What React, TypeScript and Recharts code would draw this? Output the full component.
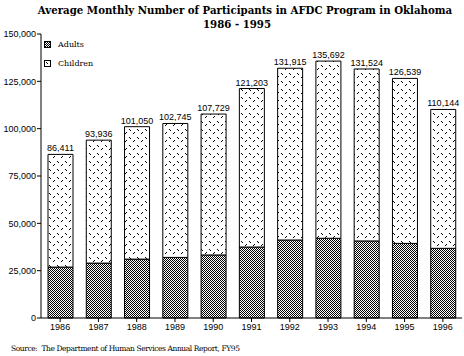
import React from "react";
import { BarChart, Bar, XAxis, YAxis, LabelList } from "recharts";

const years = ["1986", "1987", "1988", "1989", "1990", "1991", "1992", "1993", "1994", "1995", "1996"];
const totals = [86411, 93936, 101050, 102745, 107729, 121203, 131915, 135692, 131524, 126539, 110144];
const adults = [26900, 29000, 31100, 32000, 33300, 37500, 41200, 42100, 40700, 39400, 36800];
const children = [59511, 64936, 69950, 70745, 74429, 83703, 90715, 93592, 90824, 87139, 73344];
const yTicks = [0, 25000, 50000, 75000, 100000, 125000, 150000];

const data = years.map((y, i) => ({
  year: y,
  adults: adults[i],
  children: children[i],
  totalLabel: totals[i].toLocaleString("en-US"),
}));

const labelFont = "'Liberation Sans', Arial, sans-serif";
const serif = "'DejaVu Serif', serif";

function Patterns() {
  return (
    <svg width={0} height={0} style={{ position: "absolute" }}>
      <defs>
        <pattern id="adultsPat" width={2} height={2} patternUnits="userSpaceOnUse">
          <rect x={0} y={0} width={2} height={2} fill="#fff" />
          <rect x={0} y={0} width={1} height={1} fill="#000" />
          <rect x={1} y={1} width={1} height={1} fill="#000" />
        </pattern>
        <pattern id="childPat" width={8} height={8} patternUnits="userSpaceOnUse">
          <rect x={0} y={0} width={8} height={8} fill="#fff" />
          <rect x={1} y={1} width={1} height={1} fill="#000" />
          <rect x={2} y={2} width={1} height={1} fill="#000" />
          <rect x={6} y={4} width={1} height={1} fill="#000" />
          <rect x={5} y={5} width={1} height={1} fill="#000" />
        </pattern>
      </defs>
    </svg>
  );
}

const titleStyle: React.CSSProperties = {
  position: "absolute",
  textAlign: "center",
  fontFamily: serif,
  fontWeight: "bold",
  fontSize: 10.2,
  lineHeight: "14px",
  color: "#000",
  whiteSpace: "nowrap",
};

export default function App() {
  return (
    <div style={{ position: "absolute", left: 0, top: 0, width: 464, height: 356, background: "#fff", overflow: "hidden" }}>
      <Patterns />
      <div style={{ ...titleStyle, left: 25, top: 3, width: 440 }}>
        Average Monthly Number of Participants in AFDC Program in Oklahoma
      </div>
      <div style={{ ...titleStyle, left: 137, top: 17, width: 200 }}>1986 - 1995</div>
      <BarChart
        width={464}
        height={356}
        data={data}
        margin={{ top: 34, right: 2, bottom: 24, left: 0 }}
        barSize={25}
      >
        <YAxis
          width={41}
          domain={[0, 150000]}
          ticks={yTicks}
          interval={0}
          tickFormatter={(v: number) => v.toLocaleString("en-US")}
          tick={{ fontSize: 9, fontFamily: labelFont, fill: "#000" }}
          tickSize={4}
          tickMargin={1}
          axisLine={{ stroke: "#000" }}
          tickLine={{ stroke: "#000" }}
        />
        <XAxis
          dataKey="year"
          height={14}
          tick={{ fontSize: 9, fontFamily: labelFont, fill: "#000" }}
          tickSize={4}
          tickMargin={2}
          axisLine={{ stroke: "#000" }}
          tickLine={{ stroke: "#000" }}
          interval={0}
        />
        <Bar dataKey="adults" stackId="a" fill="url(#adultsPat)" stroke="#000" strokeWidth={1} isAnimationActive={false} />
        <Bar dataKey="children" stackId="a" fill="url(#childPat)" stroke="#000" strokeWidth={1} isAnimationActive={false}>
          <LabelList
            dataKey="totalLabel"
            position="top"
            offset={3}
            style={{ fontSize: 9, fontFamily: labelFont, fill: "#000" }}
          />
        </Bar>
      </BarChart>
      <div style={{ position: "absolute", left: 44, top: 40, fontFamily: serif, fontSize: 8, color: "#000" }}>
        <div style={{ display: "flex", alignItems: "center", height: 8 }}>
          <svg width={7} height={7} style={{ marginRight: 7 }}>
            <rect x={0.5} y={0.5} width={6} height={6} fill="url(#adultsPat)" stroke="#000" />
          </svg>
          Adults
        </div>
        <div style={{ display: "flex", alignItems: "center", height: 8, marginTop: 11 }}>
          <svg width={7} height={7} style={{ marginRight: 7 }}>
            <rect x={0.5} y={0.5} width={6} height={6} fill="#fff" stroke="#000" />
            <rect x={2} y={2} width={1} height={1} fill="#000" />
            <rect x={3} y={3} width={1} height={1} fill="#000" />
          </svg>
          Children
        </div>
      </div>
      <div
        style={{
          position: "absolute",
          left: 11,
          top: 344,
          fontFamily: serif,
          fontSize: 7.5,
          color: "#000",
          whiteSpace: "nowrap",
          letterSpacing: -0.4,
        }}
      >
        Source:&nbsp; The Department of Human Services Annual Report, FY95
      </div>
    </div>
  );
}
